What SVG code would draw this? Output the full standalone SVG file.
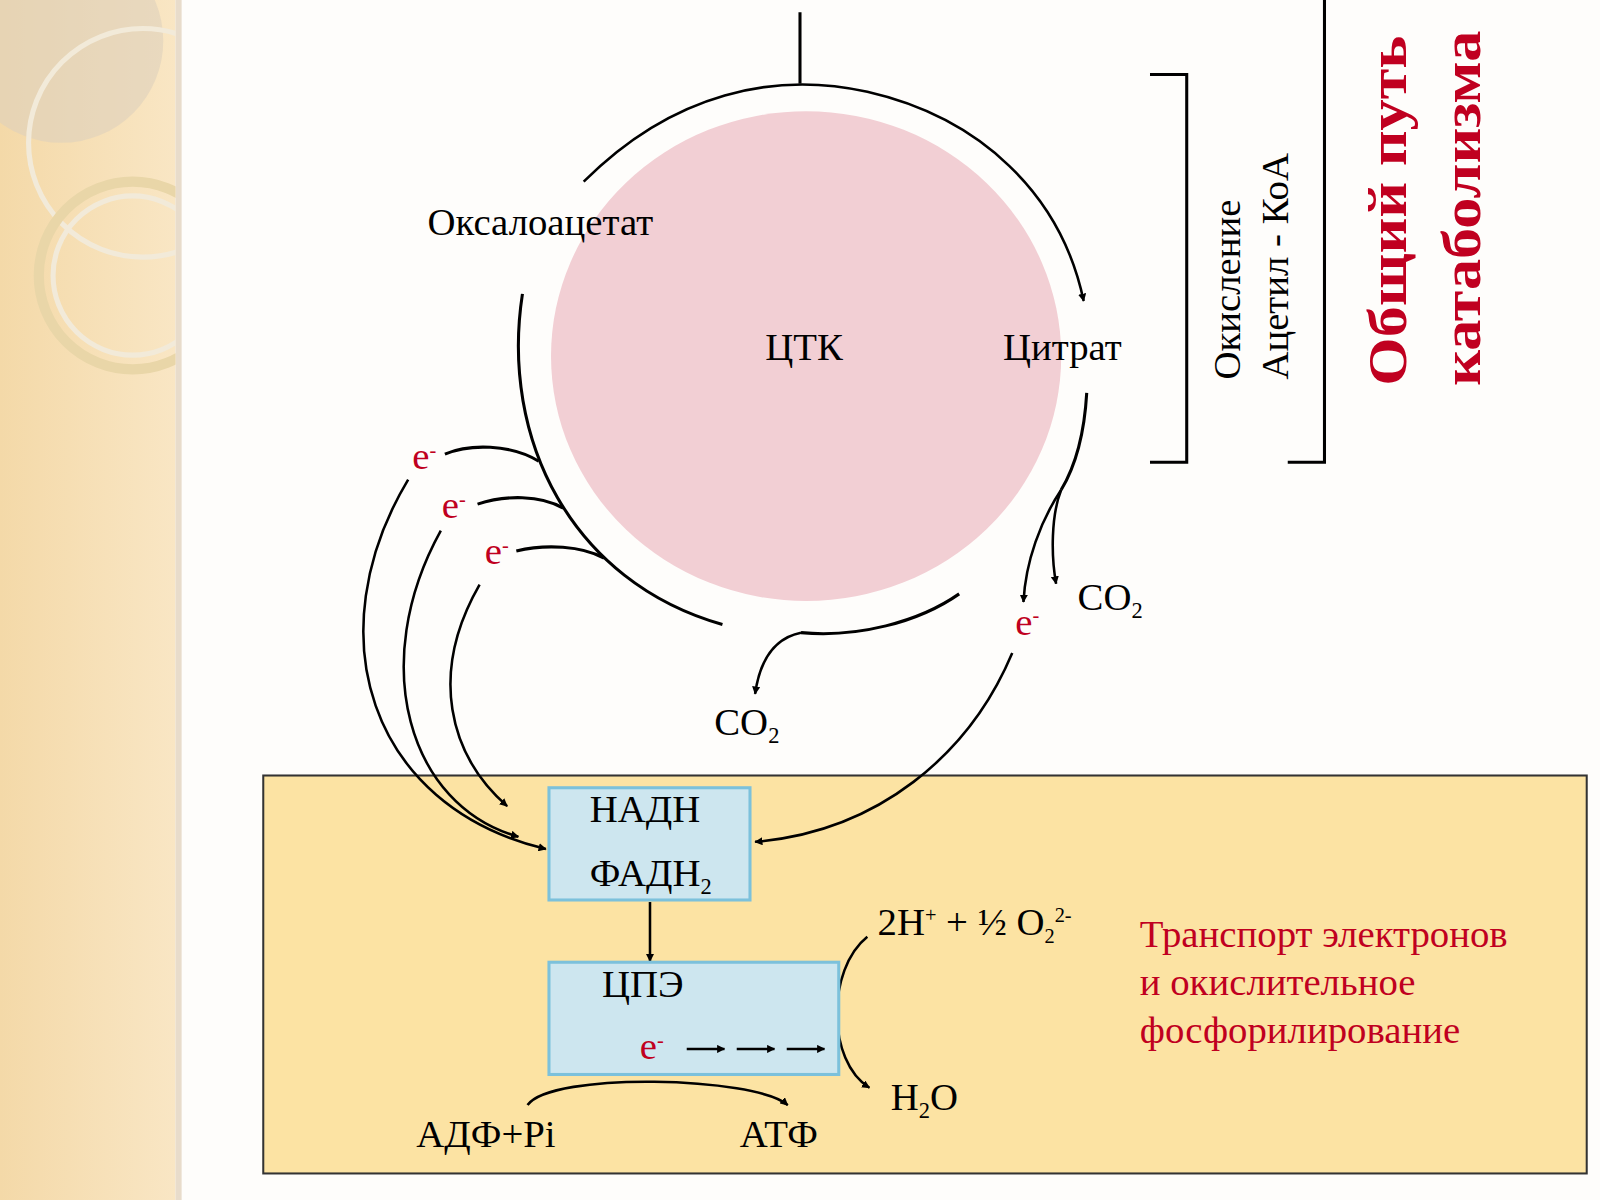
<svg xmlns="http://www.w3.org/2000/svg" width="1600" height="1200" viewBox="0 0 1600 1200">
<defs>
<marker id="ah" viewBox="0 0 10 10" refX="9" refY="5" markerWidth="8" markerHeight="8" orient="auto" markerUnits="userSpaceOnUse"><path d="M0,0L10,5L0,10z" fill="#000"/></marker>
<linearGradient id="lg" x1="0" y1="0" x2="1" y2="0"><stop offset="0" stop-color="#f4d9a8"/><stop offset="1" stop-color="#f9e6c4"/></linearGradient>
<clipPath id="cl"><rect width="172" height="1176"/></clipPath>
<style>
.t{font-family:"Liberation Serif",serif;font-size:38px;fill:#000}
.r{fill:#c00020}
.big{font-size:54px;font-weight:bold}
.c{fill:none;stroke:#000;stroke-width:3}
.a{fill:none;stroke:#000;stroke-width:2.5;marker-end:url(#ah)}
.bx{fill:#cde6ef;stroke:#7cc1db;stroke-width:3}
</style>
</defs>
<g transform="scale(1.0204)">
<rect width="1568" height="1176" fill="#fefdfb"/>
<rect width="172" height="1176" fill="url(#lg)"/>
<rect x="172" width="6" height="1176" fill="#e8dccb"/>
<g clip-path="url(#cl)">
<circle cx="60" cy="40" r="100" fill="#ddd0bc" opacity="0.6"/>
<g fill="none" stroke="#f2ead9" stroke-width="5"><circle cx="140" cy="140" r="112"/><circle cx="130" cy="270" r="92" stroke="#e9d6a8" stroke-width="10"/><circle cx="130" cy="270" r="78"/></g>
</g>
<rect x="258" y="760" width="1297" height="390" fill="#fce3a3" stroke="#333" stroke-width="2"/>
<g id="ctk"><ellipse cx="790" cy="349" rx="250" ry="240" fill="#f2cfd4"/><text class="t" x="750" y="353">ЦТК</text></g>
<g id="connectors">
<line class="c" x1="784" y1="12" x2="784" y2="82"/>
<path class="a" d="M572,178 C660,90 760,70 850,90 C960,115 1040,190 1062,295"/>
<path class="c" d="M512,288 C490,430 560,570 708,612"/>
<path class="c" d="M785,620 C840,625 900,610 940,582"/>
<path class="a" d="M785,620 C760,625 745,645 740,680"/>
<path class="c" d="M1065,385 C1063,420 1055,455 1040,480"/>
<path class="a" d="M1040,480 C1030,505 1030,545 1035,572"/>
<path class="a" d="M1040,480 C1020,510 1005,550 1003,590"/>
<path class="a" d="M992,640 C950,740 860,815 740,825"/>
<path class="c" d="M528,452 C500,435 460,435 436,445"/>
<path class="c" d="M552,498 C530,485 495,485 468,494"/>
<path class="c" d="M592,547 C570,535 535,533 506,540"/>
<path class="a" d="M400,470 C310,620 360,790 535,832"/>
<path class="a" d="M432,520 C360,650 400,790 508,820"/>
<path class="a" d="M470,573 C420,660 440,740 497,790"/>
<path class="a" d="M637,884 L637,942"/>
<path class="a" d="M850,918 C810,950 810,1040 852,1066"/>
<path class="a" d="M517,1083 C540,1050 740,1055 772,1083"/>
<polyline class="c" points="1127,73 1163,73 1163,453 1127,453"/>
<polyline class="c" points="1298,0 1298,453 1262,453"/>
</g>
<g id="labels">
<text class="t" x="419" y="230">Оксалоацетат</text>
<text class="t" x="983" y="353">Цитрат</text>
<text class="t" x="1056" y="598">CO<tspan font-size="22" dy="8">2</tspan></text>
<text class="t" x="700" y="720">CO<tspan font-size="22" dy="8">2</tspan></text>
<text class="t r" x="995" y="622">e<tspan font-size="20" dy="-12">-</tspan></text>
<text class="t r" x="404" y="460">e<tspan font-size="20" dy="-12">-</tspan></text>
<text class="t r" x="433" y="508">e<tspan font-size="20" dy="-12">-</tspan></text>
<text class="t r" x="475" y="553">e<tspan font-size="20" dy="-12">-</tspan></text>
<text class="t" transform="translate(1215,372) rotate(-90)">Окисление</text>
<text class="t" transform="translate(1262,372) rotate(-90)">Ацетил - КоА</text>
<text class="t r big" transform="translate(1378,378) rotate(-90)" textLength="343" lengthAdjust="spacingAndGlyphs">Общий путь</text>
<text class="t r big" transform="translate(1450,378) rotate(-90)" textLength="348" lengthAdjust="spacingAndGlyphs">катаболизма</text>
</g>
<g id="nadh"><rect class="bx" x="538" y="772" width="197" height="110"/>
<text class="t" x="578" y="806">НАДН</text>
<text class="t" x="578" y="868">ФАДН<tspan font-size="22" dy="8">2</tspan></text></g>
<g id="cpe"><rect class="bx" x="538" y="943" width="284" height="110"/>
<text class="t" x="590" y="977">ЦПЭ</text>
<text class="t r" x="627" y="1038">e<tspan font-size="20" dy="-12">-</tspan></text>
<path class="a" d="M673,1028 L710,1028"/>
<path class="a" d="M722,1028 L759,1028"/>
<path class="a" d="M771,1028 L808,1028"/></g>
<g id="bottomtext">
<text class="t" x="860" y="916">2H<tspan font-size="20" dy="-12">+</tspan><tspan dy="12"> + ½ O</tspan><tspan font-size="20" dy="8">2</tspan><tspan font-size="20" dy="-20">2-</tspan></text>
<text class="t" x="873" y="1088">H<tspan font-size="22" dy="8">2</tspan><tspan dy="-8">O</tspan></text>
<text class="t" x="408" y="1124">АДФ+Pi</text>
<text class="t" x="725" y="1124">АТФ</text>
<text class="t r" x="1117" y="928">Транспорт электронов</text>
<text class="t r" x="1117" y="975">и окислительное</text>
<text class="t r" x="1117" y="1022">фосфорилирование</text>
</g>
</g>
</svg>
